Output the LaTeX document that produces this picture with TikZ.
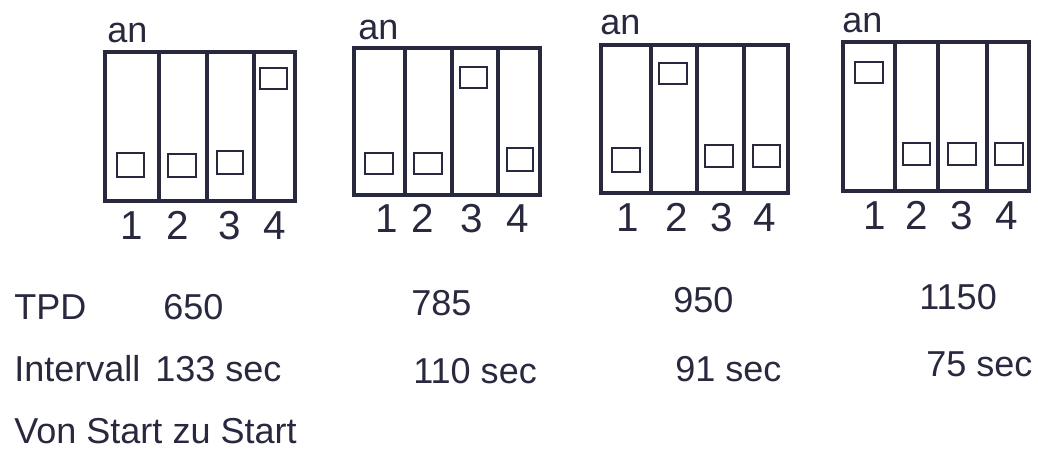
\documentclass[tikz,border=0pt]{standalone}
\usepackage{fontspec}
\setmainfont{Liberation Sans}
\usepackage{tikz}
\usetikzlibrary{positioning}
\definecolor{ink}{RGB}{40,40,62}
\tikzset{
  dipbox/.style={line width=1.8pt,draw=ink,line join=miter},
  slider/.style={line width=1.5pt,draw=ink},
  lbl/.style={font=\fontsize{20.5}{24}\selectfont,text=ink,inner sep=0pt,anchor=base west},
  num/.style={font=\fontsize{23}{27}\selectfont,text=ink,inner sep=0pt,anchor=base}
}

\begin{document}
\begin{tikzpicture}[x=0.02cm,y=-0.02cm]
\useasboundingbox (0,0) rectangle (1038,462);
% switch 4 on
\draw[dipbox] (105,52) rectangle (295,201);
\draw[dipbox] (159,52)--(159,201) (207,52)--(207,201) (254,52)--(254,201);
\draw[slider] (117,153) rectangle (144,177);
\draw[slider] (168,154) rectangle (196,177);
\draw[slider] (217,151) rectangle (243,174);
\draw[slider] (260,68) rectangle (287,89);
\node[lbl] (an1) at (107,43) {an};
\node[num] (a1) at (132,240) {1};
\node[num] (a2) at (178,240) {2};
\node[num] (a3) at (230,240) {3};
\node[num] (a4) at (275,240) {4};
% switch 3 on
\draw[dipbox] (354,48) rectangle (540,195);
\draw[dipbox] (405,48)--(405,195) (452,48)--(452,195) (498,48)--(498,195);
\draw[slider] (365,153) rectangle (393,174);
\draw[slider] (414,153) rectangle (442,174);
\draw[slider] (460,67) rectangle (487,88);
\draw[slider] (507,148) rectangle (533,171);
\node[lbl] (an2) at (358,40) {an};
\node[num] (b1) at (387,233) {1};
\node[num] (b2) at (423,233) {2};
\node[num] (b3) at (472,233) {3};
\node[num] (b4) at (518,233) {4};
% switch 2 on
\draw[dipbox] (601,45) rectangle (788,193);
\draw[dipbox] (651,45)--(651,193) (697,45)--(697,193) (744,45)--(744,193);
\draw[slider] (612,148) rectangle (640,172);
\draw[slider] (659,63) rectangle (687,84);
\draw[slider] (705,145) rectangle (733,167);
\draw[slider] (753,145) rectangle (780,167);
\node[lbl] (an3) at (600,35) {an};
\node[num] (c1) at (628,232) {1};
\node[num] (c2) at (677,232) {2};
\node[num] (c3) at (722,232) {3};
\node[num] (c4) at (765,232) {4};
% switch 1 on
\draw[dipbox] (843,42) rectangle (1029,191);
\draw[dipbox] (895,42)--(895,191) (938,42)--(938,191) (987,42)--(987,191);
\draw[slider] (855,62) rectangle (883,83);
\draw[slider] (903,143) rectangle (930,165);
\draw[slider] (948,143) rectangle (976,165);
\draw[slider] (995,143) rectangle (1023,165);
\node[lbl] (an4) at (842,33) {an};
\node[num] (d1) at (875,230) {1};
\node[num] (d2) at (917,230) {2};
\node[num] (d3) at (962,230) {3};
\node[num] (d4) at (1007,230) {4};
% table below
\node[lbl] (tpd) at (14,320) {TPD};
\node[lbl] (tpda) at (163,320) {650};
\node[lbl] (tpdb) at (411,316) {785};
\node[lbl] (tpdc) at (673,313) {950};
\node[lbl] (tpdd) at (919,310) {1150};
\node[lbl] (ivl) at (14,382) {Intervall};
\node[lbl] (ivla) at (155,382) {133 sec};
\node[lbl] (ivlb) at (413,384) {110 sec};
\node[lbl] (ivlc) at (675,382) {91 sec};
\node[lbl] (ivld) at (926,377) {75 sec};
\node[lbl] (vss) at (14,443) {Von Start zu Start};
\end{tikzpicture}
\end{document}
